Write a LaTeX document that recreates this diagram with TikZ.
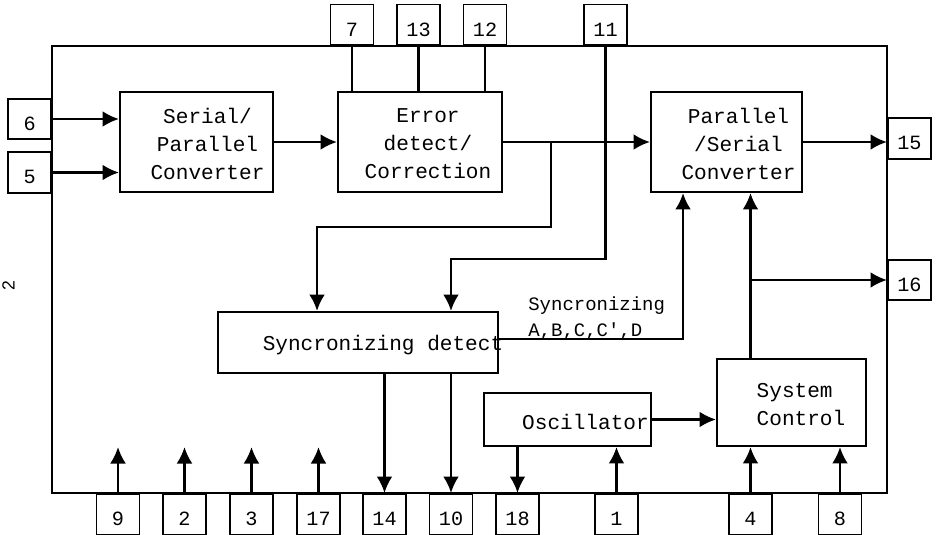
\documentclass[tikz,border=0pt]{standalone}
\usepackage{fontspec}
\setmonofont{Liberation Mono}
\setsansfont{Liberation Sans}
\usetikzlibrary{arrows.meta,calc}

\begin{document}
\begin{tikzpicture}[
    x=0.2mm, y=-0.2mm,
    chip/.style={draw, line width=1.5pt, minimum width=167mm, minimum height=89.4mm, inner sep=0},
    blk/.style={draw, line width=1.1pt, inner sep=0},
    blktxt/.style={font=\fontsize{12}{15.9}\selectfont\ttfamily, align=center, inner sep=0},
    pin/.style={draw, line width=1pt, minimum width=8.6mm, minimum height=8.1mm, inner sep=0, text height=12.8pt, text depth=0pt, font=\fontsize{11.5}{13}\selectfont\ttfamily},
    wire/.style={line width=1.5pt},
    arr/.style={-{Latex[length=3.3mm,width=3.2mm]}, line width=1.6pt}
]
\useasboundingbox (0,0) rectangle (939,535);

% chip outline
\node[chip] (chip) at (469.5,269.5) {};
\node[font=\fontsize{10}{12}\selectfont\sffamily, rotate=90, inner sep=0] (figno) at (8.5,286) {2};

% blocks
\node[blk, minimum width=30.6mm, minimum height=20mm, label={[blktxt, xshift=2.2mm, yshift=-0.4mm]center:{Serial/\\Parallel\\Converter}}] (sp) at (196.5,142) {};
\node[blk, minimum width=32.8mm, minimum height=20mm, label={[blktxt, xshift=1.6mm, yshift=-0.4mm]center:{Error\\detect/\\Correction}}] (err) at (420,142) {};
\node[blk, minimum width=30.2mm, minimum height=20mm, label={[blktxt, xshift=2.4mm, yshift=-0.4mm]center:{Parallel\\/Serial\\Converter}}] (ps) at (726.5,142) {};
\node[blk, minimum width=56mm, minimum height=12.2mm, label={[blktxt, xshift=5mm, yshift=-0.5mm]center:Syncronizing detect}] (sync) at (358,342.5) {};
\node[blk, minimum width=33.4mm, minimum height=10.6mm, label={[blktxt, xshift=3.6mm, yshift=-0.5mm]center:Oscillator}] (osc) at (567.5,419.5) {};
\node[blk, minimum width=29.8mm, minimum height=17.4mm, label={[blktxt, align=left, xshift=1.9mm, yshift=-0.4mm]center:{System\\Control}}] (sys) at (791.5,402.5) {};
\node[font=\fontsize{10.8}{14.7}\selectfont\ttfamily, align=left, anchor=west, inner sep=0] (synclbl) at (528,318) {Syncronizing\\A,B,C,C',D};

% pins
\foreach \n/\x in {7/352,13/418.5,12/485,11/605.5}
  \node[pin, anchor=south] (p\n) at (\x,46) {\n};
\foreach \n/\x in {9/118,2/184.5,3/251.5,17/318.5,14/384.5,10/451,18/517.5,1/616.5,4/750.5,8/840}
  \node[pin, anchor=north] (p\n) at (\x,493) {\n};
\node[pin, anchor=east] (p6) at (52,119) {6};
\node[pin, anchor=east] (p5) at (52,172.5) {5};
\node[pin, anchor=west] (p15) at (887,138.5) {15};
\node[pin, anchor=west] (p16) at (887,280) {16};

% data path
\draw[arr] (p6.east) -- (p6.east -| sp.west);
\draw[arr] (p5.east) -- (p5.east -| sp.west);
\draw[arr] (sp.east) -- (err.west);
\foreach \n in {7,13,12}
  \draw[wire] (p\n.south) -- (p\n.south |- err.north);
\draw[arr] (err.east) -- (ps.west);
\draw[arr] (ps.east) -- (ps.east -| p15.west);

% syncronizing
\coordinate (tap1) at (551,142);
\draw[arr] (tap1) -- ++(0,85) -| ($(sync.north west)+(100,0)$);
\draw[arr] (p11.south) -- ++(0,213) -| (p10.north |- sync.north);
\draw[arr] (sync.south -| p14.north) -- (p14.north);
\draw[arr] (sync.south -| p10.north) -- (p10.north);
\draw[arr] ($(sync.east)+(0,-3.5)$) -| ($(ps.south west)+(33,0)$);

% control
\coordinate (tap2) at (750.5,280);
\draw[arr] (sys.north -| tap2) -- (tap2 |- ps.south);
\draw[arr] (tap2) -- (tap2 -| p16.west);
\draw[arr] (osc.east) -- (osc.east -| sys.west);
\draw[arr] (osc.south -| p18.north) -- (p18.north);
\draw[arr] (p1.north) -- (p1.north |- osc.south);
\draw[arr] (p4.north) -- (p4.north |- sys.south);
\draw[arr] (p8.north) -- (p8.north |- sys.south);
\foreach \n in {9,2,3,17} {
  \coordinate (e\n) at ($(p\n.north)+(0,-46)$);
  \draw[arr] (p\n.north) -- (e\n);
}

\end{tikzpicture}
\end{document}
